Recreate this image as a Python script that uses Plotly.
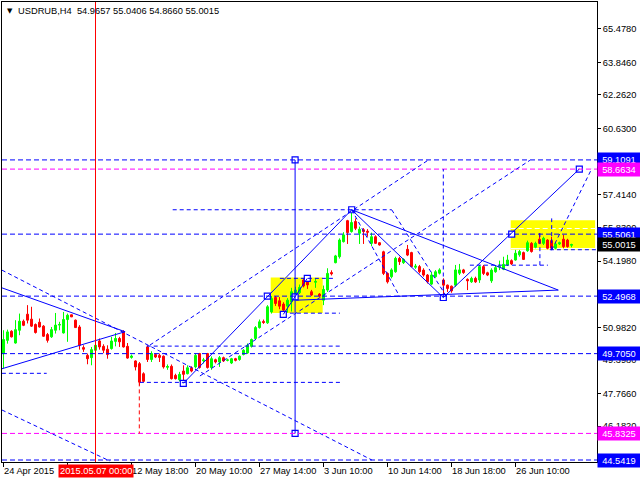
import plotly.graph_objects as go

# ---------------- data ----------------
bars = list(range(143))
opens = [49.71, 50.35, 50.79, 50.22, 50.84, 51.28, 51.62, 51.38, 51.12, 51.23,
         51.04, 50.63, 50.52, 50.84, 51.09, 50.71, 51.36, 51.59, 51.33, 51.00,
         50.00, 49.62, 49.51, 49.87, 50.32, 50.06, 49.92, 49.95, 50.30, 50.44,
         50.78, 50.06, 49.52, 49.35, 49.22, 48.73, 50.03, 49.42, 49.66, 49.62,
         49.58, 49.04, 49.09, 48.65, 48.44, 48.86, 48.73, 49.02, 49.06, 49.71,
         49.36, 49.71, 49.03, 49.41, 49.30, 49.51, 49.38, 49.25, 49.46, 49.42,
         49.66, 49.74, 50.06, 50.44, 50.97, 51.27, 51.20, 51.73, 52.43, 52.27,
         52.11, 52.01, 52.22, 52.45, 52.66, 53.28, 53.28, 52.71, 53.17, 52.60,
         52.30, 52.79, 53.64, 54.12, 54.41, 55.14, 56.16, 55.63, 56.12, 55.55,
         55.72, 55.65, 55.06, 55.38, 55.09, 54.65, 53.60, 53.44, 53.68, 54.33,
         54.12, 54.77, 54.61, 53.90, 53.93, 53.76, 53.52, 53.08, 53.44, 53.61,
         53.28, 53.03, 52.98, 53.03, 53.61, 53.77, 53.31, 53.19, 53.36, 53.28,
         53.93, 53.63, 53.24, 53.68, 53.91, 53.80, 54.01, 54.22, 54.25, 54.50,
         54.61, 54.70, 55.06, 54.87, 55.26, 55.06, 55.22, 55.19, 54.82, 55.03,
         55.26, 55.22, 54.9657]
highs = [50.84, 50.87, 50.84, 51.33, 51.65, 51.36, 52.06, 51.98, 51.17, 51.41,
         51.09, 50.71, 51.00, 51.68, 51.25, 51.73, 51.65, 51.60, 51.36, 51.09,
         50.11, 49.71, 50.03, 50.35, 50.44, 50.16, 50.11, 50.52, 50.71, 50.52,
         50.84, 50.22, 49.66, 49.38, 49.30, 48.80, 50.11, 49.82, 49.71, 49.71,
         49.62, 49.18, 49.18, 48.73, 48.82, 49.14, 49.14, 49.09, 49.71, 49.74,
         49.50, 49.74, 49.57, 49.46, 49.59, 49.56, 49.46, 49.50, 49.50, 49.62,
         49.92, 50.20, 50.44, 51.04, 51.36, 51.36, 52.06, 52.50, 52.50, 52.45,
         52.20, 52.40, 52.90, 52.95, 53.06, 53.36, 53.36, 52.80, 53.36, 52.64,
         53.01, 53.85, 53.75, 54.50, 55.30, 55.60, 56.20, 56.69, 56.27, 55.87,
         55.80, 55.75, 55.58, 55.45, 55.12, 54.70, 53.65, 53.85, 54.41, 54.41,
         54.33, 54.98, 54.65, 54.06, 54.01, 53.85, 53.57, 53.68, 53.76, 53.85,
         53.36, 53.06, 53.01, 54.01, 54.06, 53.82, 53.36, 53.44, 53.44, 54.01,
         54.01, 53.68, 53.85, 54.01, 54.22, 54.41, 54.50, 54.28, 54.74, 54.74,
         54.66, 55.19, 55.12, 55.14, 55.55, 55.38, 55.26, 55.38, 55.09, 55.14,
         55.47, 55.28, 55.0406]
lows = [48.99, 50.19, 50.49, 50.19, 50.60, 51.04, 51.17, 51.00, 50.68, 50.97,
        50.52, 50.24, 50.47, 50.68, 50.84, 50.68, 50.28, 51.48, 50.95, 49.90,
        49.79, 49.19, 49.14, 49.79, 49.90, 49.73, 49.46, 49.90, 50.06, 50.03,
        50.00, 49.46, 49.46, 48.89, 48.16, 48.32, 49.30, 49.30, 49.49, 49.30,
        48.98, 48.92, 48.45, 48.45, 48.36, 48.25, 48.70, 48.80, 48.98, 48.98,
        49.23, 48.98, 48.92, 49.23, 49.06, 49.30, 49.33, 49.20, 49.33, 49.36,
        49.62, 49.70, 50.00, 50.38, 50.92, 51.15, 51.15, 51.65, 52.02, 51.86,
        51.61, 51.70, 51.75, 52.35, 52.60, 52.92, 52.85, 52.50, 52.90, 52.45,
        52.06, 52.70, 53.50, 54.09, 54.32, 55.10, 55.03, 55.58, 55.70, 55.03,
        55.03, 55.38, 54.93, 55.03, 54.95, 53.52, 53.11, 53.36, 53.63, 54.01,
        54.06, 54.44, 53.90, 53.82, 53.60, 53.44, 53.11, 53.03, 53.39, 53.55,
        52.43, 52.70, 52.66, 52.95, 53.52, 53.58, 52.79, 53.14, 53.14, 53.14,
        53.52, 53.47, 53.14, 53.63, 53.76, 53.76, 53.96, 54.01, 54.22, 54.41,
        54.25, 54.65, 54.61, 54.82, 55.03, 54.98, 54.77, 54.77, 54.77, 54.98,
        54.82, 54.85, 54.8660]
closes = [50.39, 50.76, 50.52, 50.87, 51.28, 51.08, 51.33, 51.04, 50.73, 51.00,
          50.55, 50.35, 50.87, 51.09, 51.12, 51.36, 51.57, 51.49, 50.97, 50.11,
          49.92, 49.46, 49.90, 50.11, 50.03, 49.87, 49.66, 50.32, 50.44, 50.28,
          50.03, 49.49, 49.59, 49.06, 48.32, 48.36, 49.42, 49.71, 49.54, 49.52,
          49.06, 49.08, 48.49, 48.49, 48.70, 48.70, 49.02, 48.86, 49.62, 49.03,
          49.40, 49.03, 49.46, 49.30, 49.51, 49.35, 49.40, 49.46, 49.38, 49.58,
          49.87, 50.11, 50.39, 50.97, 51.25, 51.22, 51.98, 52.38, 52.14, 52.01,
          51.82, 52.30, 52.71, 52.79, 52.92, 52.99, 53.04, 52.55, 53.21, 52.50,
          52.82, 53.60, 53.58, 54.45, 55.22, 55.47, 55.58, 56.07, 55.79, 55.74,
          55.63, 55.60, 55.38, 55.06, 54.98, 53.60, 53.19, 53.77, 54.33, 54.17,
          54.28, 54.49, 53.93, 53.95, 53.68, 53.52, 53.19, 53.52, 53.68, 53.77,
          53.03, 52.87, 52.75, 53.77, 53.77, 53.64, 53.24, 53.36, 53.19, 53.93,
          53.60, 53.52, 53.76, 53.88, 53.95, 54.04, 54.25, 54.06, 54.58, 54.66,
          54.28, 55.09, 54.66, 55.06, 55.06, 55.31, 54.82, 54.82, 55.03, 55.09,
          54.90, 54.90, 55.0015]

symbol_title = "USDRUB,H4"
last_ohlc = [54.9657, 55.0406, 54.8660, 55.0015]

y_ticks = [65.4780, 63.8460, 62.2620, 60.6300, 59.0460, 57.4140, 55.8300,
           54.1980, 52.6140, 50.9820, 49.3980, 47.7660, 46.1820]
# tick labels fully covered by the level tags in the reference are left blank
y_ticks_covered = [59.0460, 52.6140]
x_tick_bars = [0, 16, 32, 48, 64, 80, 96, 112, 128]
x_tick_labels = ["24 Apr 2015", "", "12 May 18:00", "20 May 10:00", "27 May 14:00",
                 "3 Jun 10:00", "10 Jun 14:00", "18 Jun 18:00", "26 Jun 10:00"]

crosshair_bar = 23
crosshair_label = "2015.05.07 00:00"

# horizontal levels (full width) and their label colours
levels_blue = [59.1091, 55.5061, 52.4968, 49.7050, 44.5419]
levels_magenta = [58.6634, 45.8325]
current_price = 55.0015

# solid trend lines: (bar0, price0, bar1, price1)
trend_solid = [
    (-0.4, 52.90, 30.4, 50.77),
    (-0.4, 48.97, 30.4, 50.77),
    (44.95, 48.26, 87.05, 56.69),
    (87.05, 56.69, 109.95, 52.43),
    (87.05, 56.69, 138.7, 52.79),
    (109.95, 52.43, 143.95, 58.6634),
    (73.1, 52.30, 138.7, 52.79),
    (69.95, 51.61, 75.95, 53.36),
    (72.9, 59.1091, 72.9, 45.8325),
]
# dashed helper lines: (bar0, price0, bar1, price1)
trend_dashed = [
    (-0.4, 53.76, 92.1, 44.54),
    (-0.4, 46.97, 26.6, 44.49),
    (36.6, 50.12, 106.1, 59.09),
    (49.1, 48.62, 131.6, 59.09),
    (87.05, 56.69, 99.1, 52.46),
    (97.05, 56.69, 110.8, 52.46),
    (137.05, 54.73, 147.1, 58.70),
    (42.3, 56.69, 97.05, 56.69),
    (-0.4, 48.75, 10.8, 48.75),
    (35.8, 50.07, 84.1, 50.07),
    (34.1, 48.31, 84.1, 48.31),
    (69.1, 53.36, 82.4, 53.36),
    (71.6, 51.67, 84.1, 51.67),
    (116.6, 54.00, 136.1, 54.00),
    (136.6, 54.75, 148.4, 54.75),
    (109.95, 52.43, 109.95, 58.6634),
    (134.1, 54.00, 134.1, 55.62),
    (137.05, 54.73, 137.05, 56.27),
]
red_dashed = [(33.95, 48.31, 33.95, 45.8325)]
anchor_bars = [44.95, 65.95, 69.95, 72.9, 75.95, 87.05, 109.95, 127.05, 143.95, 72.9, 72.9]
anchor_prices = [48.26, 52.4968, 51.61, 52.46, 53.36, 56.69, 52.43, 55.5061, 58.6634, 59.1091, 45.8325]
# yellow zones: (bar0, bar1, price_low, price_high)
zones = [(66.8, 79.8, 51.68, 53.40), (126.8, 147.9, 54.76, 56.18)]
zone2_inner_dashed = 55.78
zone2_inner_solid = 54.81

# ---------------- figure ----------------
FONT = "Liberation Sans"
FS = 9.3
BLUE = "#0000FF"
MAG = "#FF00FF"

fig = go.Figure()
fig.add_trace(go.Candlestick(
    x=bars, open=opens, high=highs, low=lows, close=closes,
    increasing=dict(line=dict(color="#00FF00", width=1), fillcolor="#00FF00"),
    decreasing=dict(line=dict(color="#FF0000", width=1), fillcolor="#FF0000"),
    whiskerwidth=0, showlegend=False, hoverinfo="skip"))

fig.add_trace(go.Scatter(
    x=anchor_bars, y=anchor_prices, mode="markers",
    marker=dict(symbol="square", size=6, color="white", line=dict(color=BLUE, width=1.2)),
    showlegend=False, hoverinfo="skip", cliponaxis=False))

for (b0, b1, p0, p1) in zones:
    fig.add_shape(type="rect", x0=b0, x1=b1, y0=p0, y1=p1, fillcolor="#FFFF00",
                  line=dict(width=0), layer="below")
b0, b1 = zones[1][0], zones[1][1]
fig.add_shape(type="line", x0=b0, x1=b1, y0=zone2_inner_dashed, y1=zone2_inner_dashed,
              line=dict(color="white", width=1, dash="5px,3px"), layer="below")
fig.add_shape(type="line", x0=b0, x1=b1, y0=zone2_inner_solid, y1=zone2_inner_solid,
              line=dict(color="white", width=1), layer="below")

for v in levels_blue:
    fig.add_shape(type="line", xref="paper", x0=0, x1=1, y0=v, y1=v,
                  line=dict(color=BLUE, width=1, dash="5px,3px"))
for v in levels_magenta:
    fig.add_shape(type="line", xref="paper", x0=0, x1=1, y0=v, y1=v,
                  line=dict(color=MAG, width=1, dash="5px,3px"))

for (x0, y0, x1, y1) in trend_dashed:
    fig.add_shape(type="line", x0=x0, y0=y0, x1=x1, y1=y1,
                  line=dict(color=BLUE, width=1, dash="4px,3px"))
for (x0, y0, x1, y1) in red_dashed:
    fig.add_shape(type="line", x0=x0, y0=y0, x1=x1, y1=y1,
                  line=dict(color="#FF0000", width=1, dash="4px,3px"))
for (x0, y0, x1, y1) in trend_solid:
    fig.add_shape(type="line", x0=x0, y0=y0, x1=x1, y1=y1,
                  line=dict(color=BLUE, width=1))

fig.add_shape(type="line", x0=crosshair_bar, x1=crosshair_bar, yref="paper", y0=0, y1=1,
              line=dict(color="#FF0000", width=1))

ann = []
for b, t in zip(x_tick_bars, x_tick_labels):
    if t:
        ann.append(dict(x=b, xref="x", y=0, yref="paper", yanchor="top", xanchor="left",
                        xshift=-2, yshift=-2, text=t, showarrow=False,
                        font=dict(family=FONT, size=FS, color="black")))
ann.append(dict(x=crosshair_bar, xref="x", y=0, yref="paper", yanchor="top", xanchor="center",
                yshift=-2, text=crosshair_label, showarrow=False, bgcolor="#FF0000",
                borderpad=1, font=dict(family=FONT, size=FS, color="white")))

def price_label(v, bg):
    return dict(x=1, xref="paper", y=v, yref="y", xanchor="left", yanchor="middle",
                xshift=0, text=f"{v:.4f}", showarrow=False, bgcolor=bg, width=40,
                height=11, align="center", borderpad=1,
                font=dict(family=FONT, size=FS, color="white"))

for v in levels_blue:
    ann.append(price_label(v, BLUE))
for v in levels_magenta:
    ann.append(price_label(v, MAG))
ann.append(price_label(current_price, "black"))

header = symbol_title + "\u00a0\u00a0" + " ".join(f"{v:.4f}" for v in last_ohlc)
ann.append(dict(x=0, xref="paper", y=1, yref="paper", xanchor="left", yanchor="top",
                xshift=14, yshift=-2, text=header, showarrow=False,
                font=dict(family=FONT, size=FS, color="black")))
ann.append(dict(x=0, xref="paper", y=1, yref="paper", xanchor="left", yanchor="top",
                xshift=3, yshift=-3, text="\u25BC", showarrow=False,
                font=dict(family="DejaVu Sans", size=7, color="black")))

y_ticktext = ["" if v in y_ticks_covered else f"{v:.4f}" for v in y_ticks]

fig.update_layout(
    width=640, height=480, margin=dict(l=2, r=43, t=2, b=18),
    paper_bgcolor="white", plot_bgcolor="white", showlegend=False,
    annotations=ann,
    xaxis=dict(range=[-0.375, 148.375], showgrid=False, zeroline=False, showline=True,
               linecolor="black", linewidth=1, mirror=True,
               rangeslider=dict(visible=False), tickmode="array", tickvals=x_tick_bars,
               ticktext=[""] * len(x_tick_bars), ticks="outside", ticklen=4,
               tickcolor="black"),
    yaxis=dict(side="right", range=[44.445, 66.775], showgrid=False, zeroline=False,
               showline=True, linecolor="black", linewidth=1, mirror=True,
               tickmode="array", tickvals=y_ticks, ticktext=y_ticktext,
               ticks="outside", ticklen=3, tickcolor="black",
               tickfont=dict(family=FONT, size=FS, color="black")),
)

fig.write_html("out.html", config={"displayModeBar": False},
               post_script="document.body.style.margin='0';document.body.style.padding='0';")
